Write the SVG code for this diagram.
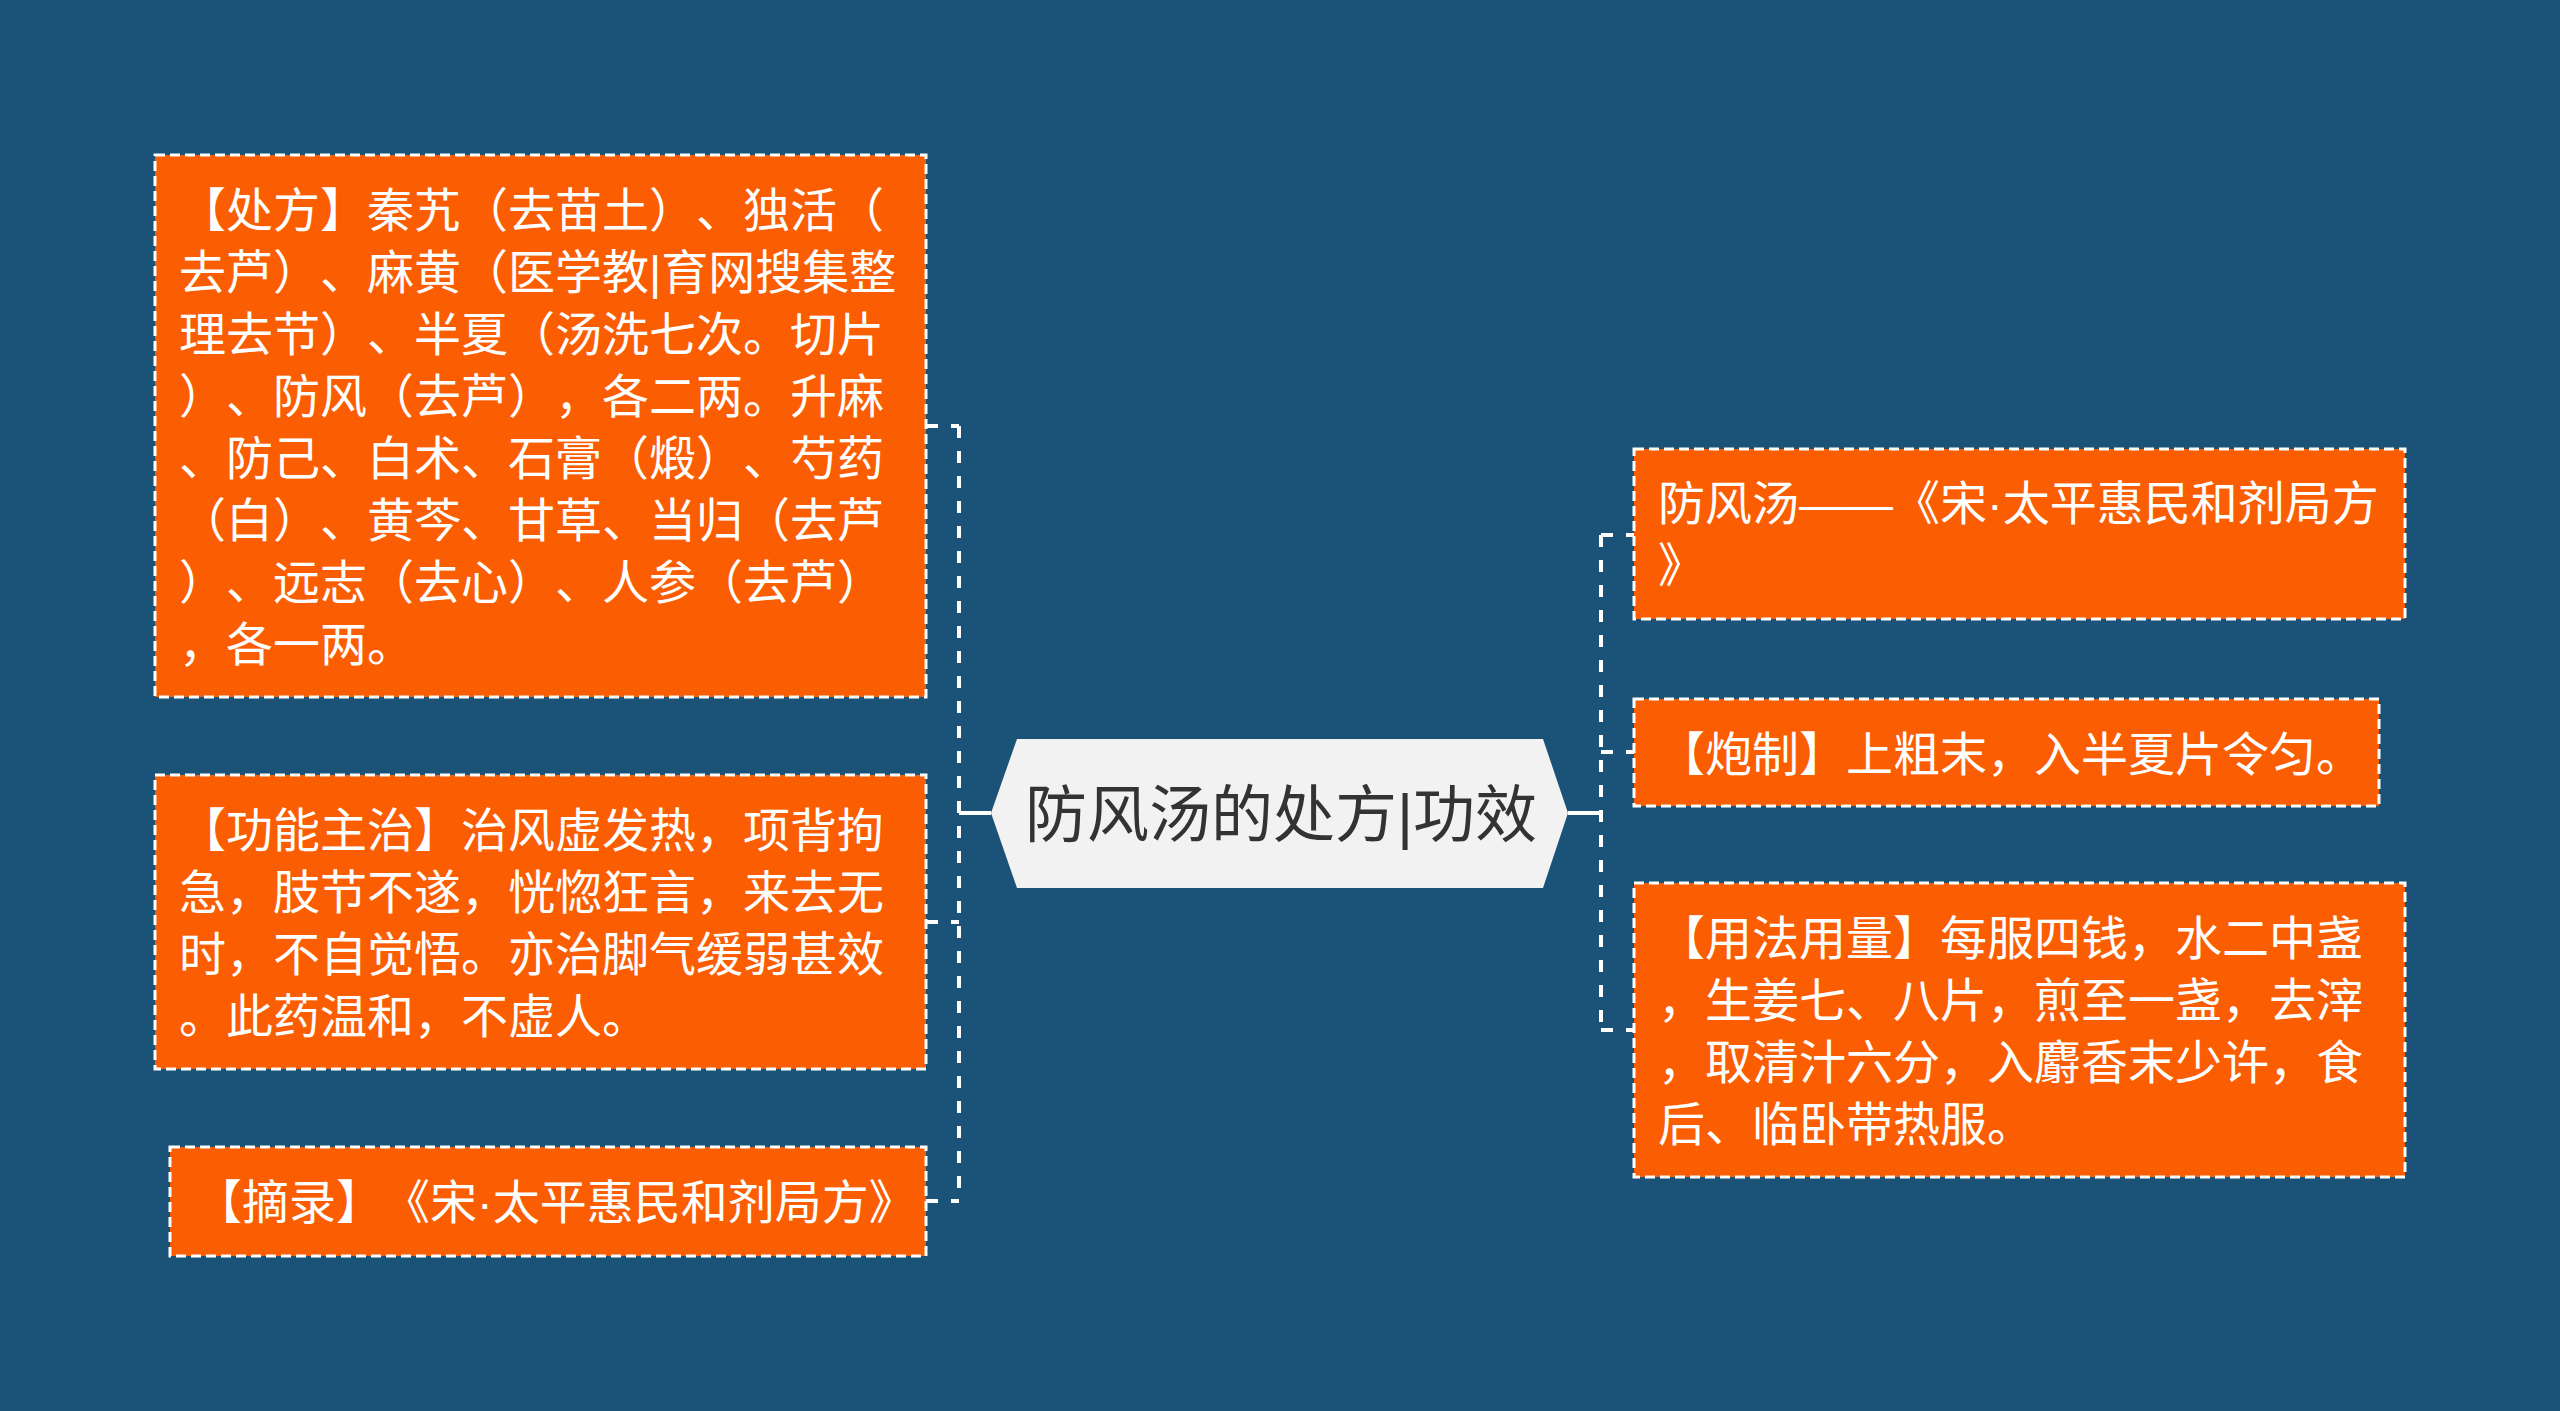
<svg xmlns="http://www.w3.org/2000/svg" width="2560" height="1411" viewBox="0 0 2560 1411">
<style>
.bg{fill:#1a5377}
.box{fill:#fb5d03;stroke:#ffffff;stroke-width:3;stroke-dasharray:10 5}
text{text-spacing-trim:space-all;font-kerning:none}
.t{font-family:"Liberation Sans","Noto Sans CJK SC",sans-serif;font-size:47px;fill:#ffffff}
.root{fill:#f2f2f2}
.rt{font-family:"Liberation Sans","Noto Sans CJK SC",sans-serif;font-size:62px;fill:#333333}
.conn{fill:none;stroke:#ffffff;stroke-width:4;stroke-dasharray:12 13}
.solid{fill:none;stroke:#ffffff;stroke-width:4}
</style>
<rect class="bg" x="0" y="0" width="2560" height="1411"/>
<g id="connectors">
<line class="solid" x1="959" y1="813" x2="991" y2="813"/>
<line class="solid" x1="1568" y1="813" x2="1601" y2="813"/>
<path class="conn" d="M959 426 V1201"/>
<path class="conn" d="M926 426 H959"/>
<path class="conn" d="M926 922 H959"/>
<path class="conn" d="M926 1201 H959"/>
<path class="conn" d="M1601 535 V1030"/>
<path class="conn" d="M1601 535 H1634"/>
<path class="conn" d="M1601 752 H1634"/>
<path class="conn" d="M1601 1030 H1634"/>
</g>
<g id="root">
<polygon class="root" points="991,813 1017,739 1543,739 1568,813 1543,888 1017,888"/>
<text class="rt" x="1281" y="837" text-anchor="middle">防风汤的处方|功效</text>
</g>
<g id="node-chufang">
<rect class="box" x="155" y="155" width="771" height="542"/>
<text class="t" x="179" y="227">【处方】秦艽（去苗土）、独活（</text>
<text class="t" x="179" y="289">去芦）、麻黄（医学教|育网搜集整</text>
<text class="t" x="179" y="351">理去节）、半夏（汤洗七次。切片</text>
<text class="t" x="179" y="413">）、防风（去芦），各二两。升麻</text>
<text class="t" x="179" y="475">、防己、白术、石膏（煅）、芍药</text>
<text class="t" x="179" y="537">（白）、黄芩、甘草、当归（去芦</text>
<text class="t" x="179" y="599">）、远志（去心）、人参（去芦）</text>
<text class="t" x="179" y="661">，各一两。</text>
</g>
<g id="node-gongneng">
<rect class="box" x="155" y="775" width="771" height="294"/>
<text class="t" x="179" y="847">【功能主治】治风虚发热，项背拘</text>
<text class="t" x="179" y="909">急，肢节不遂，恍惚狂言，来去无</text>
<text class="t" x="179" y="971">时，不自觉悟。亦治脚气缓弱甚效</text>
<text class="t" x="179" y="1033">。此药温和，不虚人。</text>
</g>
<g id="node-zhailu">
<rect class="box" x="170" y="1147" width="756" height="109"/>
<text class="t" x="195" y="1219">【摘录】《宋·太平惠民和剂局方》</text>
</g>
<g id="node-title">
<rect class="box" x="1634" y="449" width="771" height="170"/>
<text class="t" x="1658" y="520">防风汤——《宋·太平惠民和剂局方</text>
<text class="t" x="1658" y="582">》</text>
</g>
<g id="node-paozhi">
<rect class="box" x="1634" y="699" width="745" height="107"/>
<text class="t" x="1658" y="771">【炮制】上粗末，入半夏片令匀。</text>
</g>
<g id="node-yongfa">
<rect class="box" x="1634" y="883" width="771" height="294"/>
<text class="t" x="1658" y="955">【用法用量】每服四钱，水二中盏</text>
<text class="t" x="1658" y="1017">，生姜七、八片，煎至一盏，去滓</text>
<text class="t" x="1658" y="1079">，取清汁六分，入麝香末少许，食</text>
<text class="t" x="1658" y="1141">后、临卧带热服。</text>
</g>
</svg>
